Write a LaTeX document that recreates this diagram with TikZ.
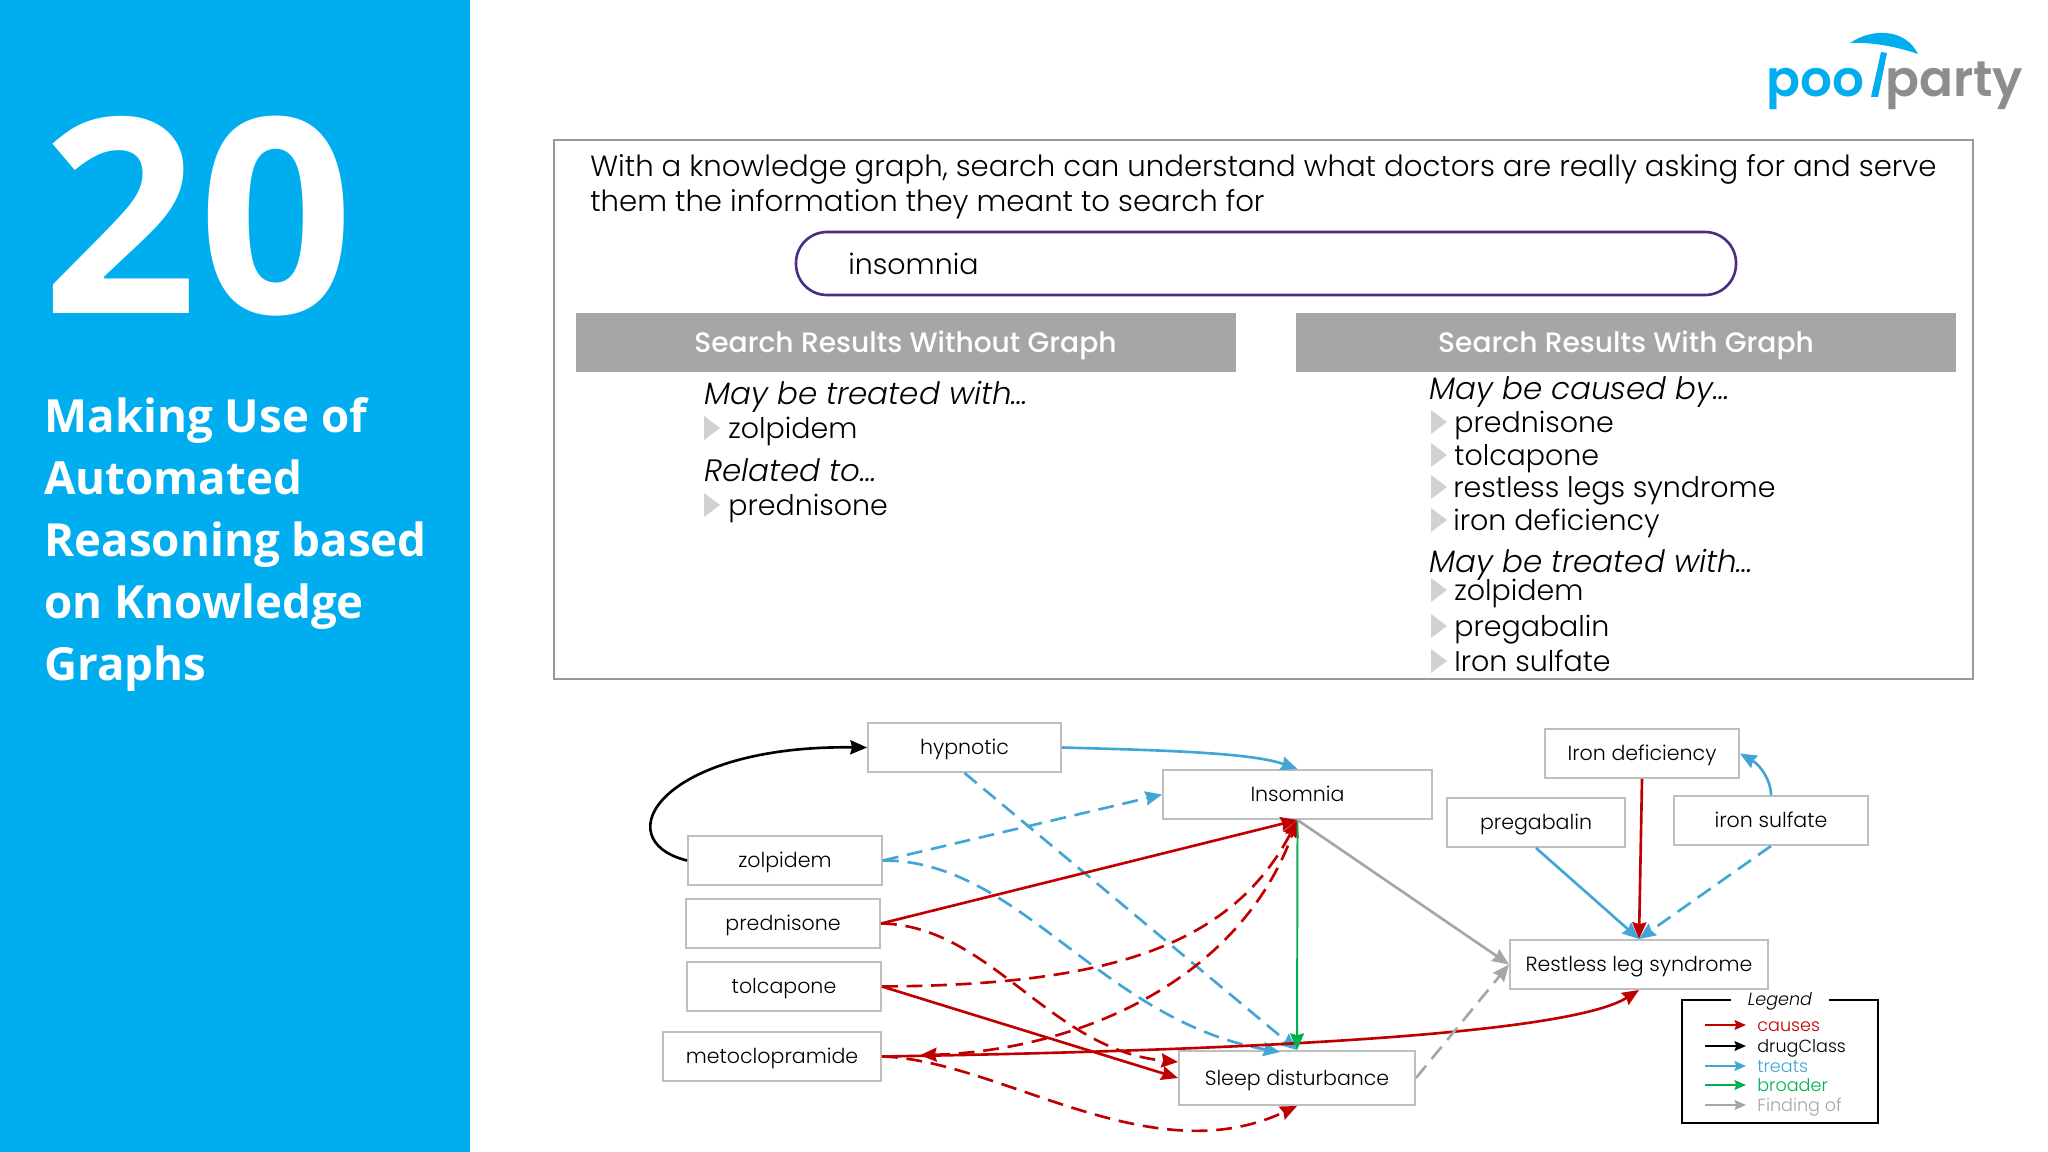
\documentclass[tikz,border=0pt]{standalone}
\usepackage{fontspec}
\setmainfont{Poppins}[UprightFont=* Light,ItalicFont=* Light Italic,BoldFont=* Medium]
\newfontfamily\panelfont{Open Sans}
\usetikzlibrary{arrows.meta,calc}
\definecolor{panelblue}{HTML}{00AEEF}
\definecolor{logogray}{HTML}{8C8D8F}
\definecolor{boxgray}{HTML}{BFBFC1}
\definecolor{headgray}{HTML}{A6A6A8}
\definecolor{causescol}{HTML}{C00000}
\definecolor{treatscol}{HTML}{41A5D5}
\definecolor{broadercol}{HTML}{00B050}
\definecolor{findingcol}{HTML}{A6A6A6}
\definecolor{searchcol}{HTML}{4B2E83}

\begin{document}
\begin{tikzpicture}[
  x=0.02cm,y=-0.02cm,
  >={Stealth[length=9.5pt,width=8pt,inset=1pt]},
  box/.style 2 args={draw=boxgray,fill=white,line width=1.1pt,minimum width=#1*0.02cm,minimum height=#2*0.02cm,inner sep=0pt,text height=8.5pt,text depth=0pt,font=\fontsize{11.7}{14}\selectfont},
  edge/.style={line width=1.5pt,->},
  causes/.style={edge,causescol},
  drugclass/.style={edge,black},
  treats/.style={edge,treatscol},
  broader/.style={edge,broadercol},
  finding/.style={edge,findingcol},
  dashes/.style={dash pattern=on 9pt off 5pt},
  header/.style={fill=headgray,text=white,minimum width=660*0.02cm,minimum height=59*0.02cm,inner sep=0pt,text height=11pt,text depth=0pt,font=\bfseries\fontsize{16}{18}\selectfont},
  listitem/.style={anchor=west,inner sep=0pt,text height=11.5pt,text depth=0pt,font=\fontsize{16.2}{19}\selectfont},
  listhead/.style={listitem,font=\itshape\fontsize{17.6}{19}\selectfont},
  title/.style={anchor=base west,inner sep=0pt,text=white,font=\panelfont\bfseries\fontsize{26}{30}\selectfont}
  ]
\useasboundingbox (0,0) rectangle (2048,1152);
\fill[white] (0,0) rectangle (2048,1152);
% side panel
\fill[panelblue] (0,0) rectangle (470,1152);
\node[anchor=center,inner sep=0pt,text=white,font=\panelfont\bfseries\fontsize{155}{155}\selectfont] (number) at (198,216) {20};
\node[title] (title1) at (44,432) {Making Use of};
\node[title] (title2) at (44,494) {Automated};
\node[title] (title3) at (44,556) {Reasoning based};
\node[title] (title4) at (44,618) {on Knowledge};
\node[title] (title5) at (44,680) {Graphs};
% logo
\fill[panelblue] (1850,43) .. controls (1872,28) and (1905,28) .. (1918,54) .. controls (1895,46) and (1870,42) .. (1850,43) -- cycle;
\fill[panelblue] (1881,52) -- (1887,53) -- (1878,97) -- (1871,97) -- cycle;
\node[anchor=base west,inner sep=0pt,text=panelblue,font=\fontspec{Poppins SemiBold}\fontsize{28.5}{30}\selectfont] (logopool) at (1766,97) {poo};
\node[anchor=base west,inner sep=0pt,text=logogray,font=\fontspec{Poppins SemiBold}\fontsize{28.5}{30}\selectfont] (logoparty) at (1885,97) {party};
% search panel
\draw[draw=gray!80,line width=1.1pt] (554,140) rectangle (1973,679);
\node[anchor=west,inner sep=0pt,align=left,font=\fontsize{16.6}{19.9}\selectfont] (intro) at (590,187) {With a knowledge graph, search can understand what doctors are really asking for and serve\\them the information they meant to search for};
\draw[searchcol,line width=1.5pt,rounded corners=31*0.02cm] (796,232) rectangle (1736,295);
\node[listitem] (query) at (848,264) {insomnia};
\node[header] (headleft) at (905.5,342.5) {Search Results Without Graph};
\node[header] (headright) at (1626,342.5) {Search Results With Graph};
\node[listhead] (treatleft) at (704,394) {May be treated with\dots};
\node[listitem] (zolpleft) at (728,428) {zolpidem};
\node[listhead] (relatedleft) at (704,471) {Related to\dots};
\node[listitem] (predleft) at (728,505) {prednisone};
\node[listhead] (causedright) at (1429,389) {May be caused by\dots};
\node[listitem] (predright) at (1454,422) {prednisone};
\node[listitem] (tolcright) at (1454,455) {tolcapone};
\node[listitem] (restright) at (1453,487) {restless legs syndrome};
\node[listitem] (ironright) at (1453,520) {iron deficiency};
\node[listhead] (treatright) at (1429,562) {May be treated with\dots};
\node[listitem] (zolpright) at (1454,590) {zolpidem};
\node[listitem] (pregright) at (1454,626) {pregabalin};
\node[listitem] (sulfright) at (1454,661) {Iron sulfate};
\foreach \bx/\by in {704/428,704/505,1431/422,1431/455,1431/487,1431/520,1431/590,1431/626,1431/661}
  \fill[black!18] (\bx,\by-12) -- (\bx+16,\by) -- (\bx,\by+12) -- cycle;
% graph nodes
\node[box={193}{49}] (hypnotic) at (964.5,747.5) {hypnotic};
\node[box={269}{49}] (insomnia) at (1297.5,794.5) {Insomnia};
\node[box={194}{49}] (zolpidem) at (785,860.5) {zolpidem};
\node[box={194}{49}] (prednisone) at (783,923.5) {prednisone};
\node[box={194}{49}] (tolcapone) at (784,986.5) {tolcapone};
\node[box={218}{49}] (metoclopramide) at (772,1056.5) {metoclopramide};
\node[box={236}{54}] (sleep) at (1297,1078) {Sleep disturbance};
\node[box={194}{49}] (irondef) at (1642,753.5) {Iron deficiency};
\node[box={178}{49}] (pregabalin) at (1536,822.5) {pregabalin};
\node[box={194}{49}] (ironsulf) at (1771,820.5) {iron sulfate};
\node[box={258}{49}] (restless) at (1639,964.5) {Restless leg syndrome};
% edges
\draw[drugclass] (zolpidem.west) .. controls (605,840) and (660,745) .. (hypnotic.west);
\draw[treats] (hypnotic.east) .. controls (1150,750) and (1250,752) .. (insomnia.north);
\draw[treats,dashes] (hypnotic.south) -- (sleep.north);
\draw[treats,dashes] (zolpidem.east) -- (insomnia.west);
\draw[treats,dashes] (zolpidem.east) .. controls (1020,860) and (1100,1020) .. ($(sleep.north)+(-17,2)$);
\draw[causes] (prednisone.east) -- (insomnia.south);
\draw[causes,dashes] (prednisone.east) .. controls (990,925) and (1050,1050) .. ($(sleep.west)+(0,-16)$);
\draw[causes,dashes] (tolcapone.east) .. controls (1100,985) and (1230,950) .. (insomnia.south);
\draw[causes] (tolcapone.east) -- (sleep.west);
\draw[causes,dashes,<->,shorten <=0.76cm] (metoclopramide.east) .. controls (1080,1050) and (1240,980) .. (insomnia.south);
\draw[causes] (metoclopramide.east) .. controls (1150,1052) and (1560,1040) .. (restless.south);
\draw[causes,dashes] (metoclopramide.east) .. controls (1000,1060) and (1150,1175) .. (sleep.south);
\draw[broader,line width=1.1pt] (insomnia.south) -- (sleep.north);
\draw[finding] (insomnia.south) -- (restless.west);
\draw[finding,dashes] (sleep.east) -- (restless.west);
\draw[causes] (irondef.south) -- (restless.north);
\draw[treats] (pregabalin.south) -- (restless.north);
\draw[treats,dashes] (ironsulf.south) -- (restless.north);
\draw[treats] (ironsulf.north) .. controls (1771,780) and (1760,765) .. (irondef.east);
% legend
\draw[black,line width=1.2pt] (1682,1000) rectangle (1878,1123);
\node[fill=white,inner sep=0pt,minimum width=98*0.02cm,font=\itshape\fontsize{10}{12}\selectfont] (legend) at (1780,1001) {Legend};
\foreach \lname/\lcol/\ly in {causes/causescol/1025,drugClass/black/1046,treats/treatscol/1066,broader/broadercol/1085,Finding of/findingcol/1105}{
  \node[anchor=west,inner sep=0pt,text height=7pt,text depth=0pt,text=\lcol,font=\fontsize{10}{12}\selectfont] (leg\ly) at (1757,\ly) {\lname};
  \coordinate (legstart\ly) at (1705,\ly);
  \coordinate (legend\ly) at (1746,\ly);
  \draw[edge,\lcol,>={Stealth[length=6.5pt,width=5.5pt,inset=1pt]}] (legstart\ly) -- (legend\ly);
}
\end{tikzpicture}
\end{document}
